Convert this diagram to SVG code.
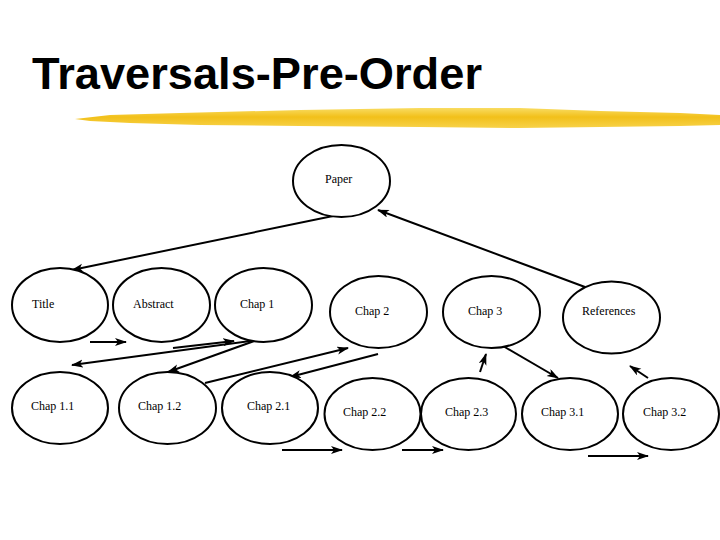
<svg xmlns="http://www.w3.org/2000/svg" width="720" height="540" viewBox="0 0 720 540">
<defs>
<style>
.node ellipse{fill:#fff;stroke:#000;stroke-width:2}
.node text{font-family:'Liberation Serif','Times New Roman',Times,serif;font-size:12px;fill:#000}
.edges line{stroke:#000;stroke-width:2;marker-end:url(#ah)}
.title{font-family:'Liberation Sans',Arial,sans-serif;font-weight:bold;font-size:45px;fill:#000}
</style>
<marker id="ah" markerUnits="userSpaceOnUse" markerWidth="12" markerHeight="10" refX="11" refY="4" orient="auto">
<path d="M0,0 L12,4 L0,8 L3,4 Z" fill="#000"/>
</marker>
<linearGradient id="gold" x1="0" y1="0" x2="0" y2="1">
<stop offset="0" stop-color="#F9DC62"/>
<stop offset="0.45" stop-color="#F2C01A"/>
<stop offset="1" stop-color="#F7D24A"/>
</linearGradient>
</defs>
<rect width="720" height="540" fill="#fff"/>
<text class="title" x="32" y="89" textLength="450" lengthAdjust="spacingAndGlyphs">Traversals-Pre-Order</text>
<path d="M75,119 L110,115 L180,113 L300,110 L420,108 L520,108 L600,111 L680,113 L720,115 L720,125 L680,126 L600,127 L520,128 L420,127 L300,126 L200,125 L130,123 L90,121 Z" fill="url(#gold)"/>
<g class="edges">
<line x1="333" y1="216" x2="72" y2="270"/>
<line x1="585" y1="287" x2="378" y2="210"/>
<line x1="90" y1="342" x2="126" y2="342"/>
<line x1="173" y1="348" x2="234" y2="341"/>
<line x1="257" y1="340" x2="72" y2="365"/>
<line x1="257" y1="340" x2="168" y2="372"/>
<line x1="205" y1="383" x2="348" y2="348"/>
<line x1="378" y1="354" x2="290" y2="377"/>
<line x1="282" y1="450" x2="342" y2="450"/>
<line x1="402" y1="450" x2="443" y2="450"/>
<line x1="480" y1="372" x2="486" y2="354"/>
<line x1="503" y1="346" x2="558" y2="378"/>
<line x1="588" y1="456" x2="648" y2="456"/>
<line x1="648" y1="378" x2="630" y2="366"/>
</g>
<g id="paper" class="node"><ellipse cx="341.5" cy="181" rx="48.5" ry="36"/><text x="325" y="183" font-family="Liberation Serif, serif">Paper</text></g>
<g id="title" class="node"><ellipse cx="60" cy="305" rx="48" ry="37"/><text x="32" y="308" font-family="Liberation Serif, serif">Title</text></g>
<g id="abstract" class="node"><ellipse cx="161.5" cy="305" rx="48.5" ry="37"/><text x="133" y="308" font-family="Liberation Serif, serif">Abstract</text></g>
<g id="chap1" class="node"><ellipse cx="263.5" cy="305" rx="48.5" ry="37"/><text x="240" y="308" font-family="Liberation Serif, serif">Chap 1</text></g>
<g id="chap2" class="node"><ellipse cx="378.5" cy="312" rx="48.5" ry="36"/><text x="355" y="315" font-family="Liberation Serif, serif">Chap 2</text></g>
<g id="chap3" class="node"><ellipse cx="491.5" cy="312" rx="48.5" ry="36"/><text x="468" y="315" font-family="Liberation Serif, serif">Chap 3</text></g>
<g id="references" class="node"><ellipse cx="611.5" cy="317.5" rx="48.5" ry="36"/><text x="582" y="315" font-family="Liberation Serif, serif">References</text></g>
<g id="chap11" class="node"><ellipse cx="60" cy="408" rx="48" ry="36"/><text x="31" y="410" font-family="Liberation Serif, serif">Chap 1.1</text></g>
<g id="chap12" class="node"><ellipse cx="167.5" cy="408" rx="48.5" ry="36"/><text x="138" y="410" font-family="Liberation Serif, serif">Chap 1.2</text></g>
<g id="chap21" class="node"><ellipse cx="270" cy="408" rx="48" ry="36"/><text x="247" y="410" font-family="Liberation Serif, serif">Chap 2.1</text></g>
<g id="chap22" class="node"><ellipse cx="372.5" cy="414" rx="48" ry="36"/><text x="343" y="416" font-family="Liberation Serif, serif">Chap 2.2</text></g>
<g id="chap23" class="node"><ellipse cx="468.5" cy="414" rx="47.5" ry="36"/><text x="445" y="416" font-family="Liberation Serif, serif">Chap 2.3</text></g>
<g id="chap31" class="node"><ellipse cx="570" cy="414" rx="48" ry="36"/><text x="541" y="416" font-family="Liberation Serif, serif">Chap 3.1</text></g>
<g id="chap32" class="node"><ellipse cx="671" cy="414" rx="48" ry="36"/><text x="643" y="416" font-family="Liberation Serif, serif">Chap 3.2</text></g>
</svg>
